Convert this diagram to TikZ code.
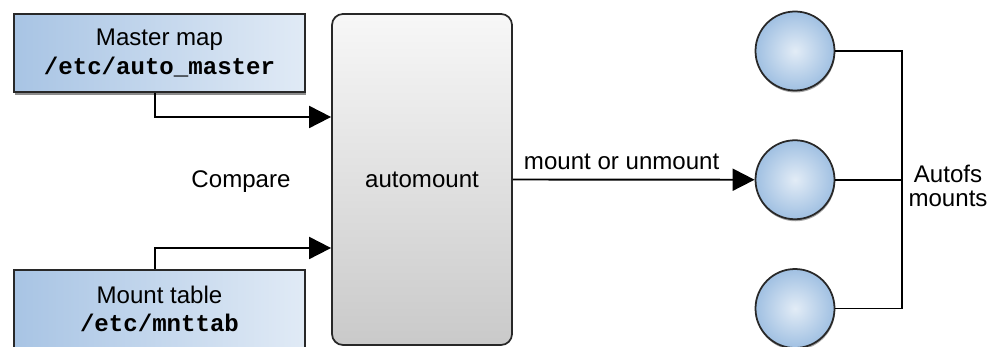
\documentclass[tikz,border=0pt]{standalone}
\usepackage{fontspec}
\setmainfont{Liberation Sans}
\setmonofont{Liberation Mono}
\usepackage{tikz}
\usetikzlibrary{shapes,arrows.meta,positioning,shadows}

\definecolor{boxblue}{RGB}{168,196,228}
\definecolor{discblue}{RGB}{160,192,226}
\definecolor{edge}{RGB}{40,40,40}

\tikzset{
  mapbox/.style={draw=edge, line width=1pt, minimum width=5.82cm, minimum height=1.56cm,
    left color=boxblue, right color=boxblue!35!white, align=center,
    font=\fontsize{13.7}{15}\selectfont,
    drop shadow={shadow xshift=0.02cm, shadow yshift=-0.06cm, fill=black, opacity=0.45}},
  daemon/.style={draw=edge, line width=1pt, rounded corners=0.22cm, minimum width=3.6cm,
    minimum height=6.62cm, top color=gray!6, bottom color=gray!42,
    font=\fontsize{13.7}{15}\selectfont},
  disc/.style={draw=edge, line width=1pt, circle, minimum size=1.58cm,
    inner color=discblue!30!white, outer color=discblue,
    drop shadow={shadow xshift=0.01cm, shadow yshift=-0.04cm, fill=black, opacity=0.35}},
  arr/.style={line width=1.1pt, -{Triangle[length=0.44cm,width=0.44cm]}},
  wire/.style={line width=1.1pt},
  txt/.style={font=\fontsize{13.7}{15}\selectfont, align=center}
}

\begin{document}
\begin{tikzpicture}
\useasboundingbox (0,0) rectangle (19.92,-6.94);
\node[mapbox] (master) at (3.19,-1.06)
    {Master map\\[1pt]{\ttfamily\bfseries /etc/auto\_master}};
\node[mapbox] (mnttab) at (3.19,-6.18)
    {Mount table\\[1pt]{\ttfamily\bfseries /etc/mnttab}};
\node[daemon] (automount) at (8.44,-3.59) {automount};
\node[txt] (compare) at (4.82,-3.64) {Compare};
\node[disc] (disc1) at (15.9,-1.02) {};
\node[disc, below=0.96cm of disc1] (disc2) {};
\node[disc, below=0.96cm of disc2] (disc3) {};
\coordinate (bus) at (18.04,0);
\node[txt, font=\fontsize{13.7}{14}\selectfont] (autofs) at (18.96,-3.72) {Autofs\\mounts};
% inputs
\draw[arr] ([xshift=-0.09cm]master.south) |- ([yshift=1.25cm]automount.west);
\draw[arr] ([xshift=-0.09cm]mnttab.north) |- ([yshift=-1.37cm]automount.west);
% output
\draw[arr] (automount.east) -- (disc2.west)
    node[txt, pos=0.45, above=2pt] {mount or unmount};
\draw[wire] (disc1.east) -- (disc1 -| bus) -- (disc3 -| bus) -- (disc3.east);
\draw[wire] (disc2.east) -- (disc2 -| bus);
\end{tikzpicture}
\end{document}
